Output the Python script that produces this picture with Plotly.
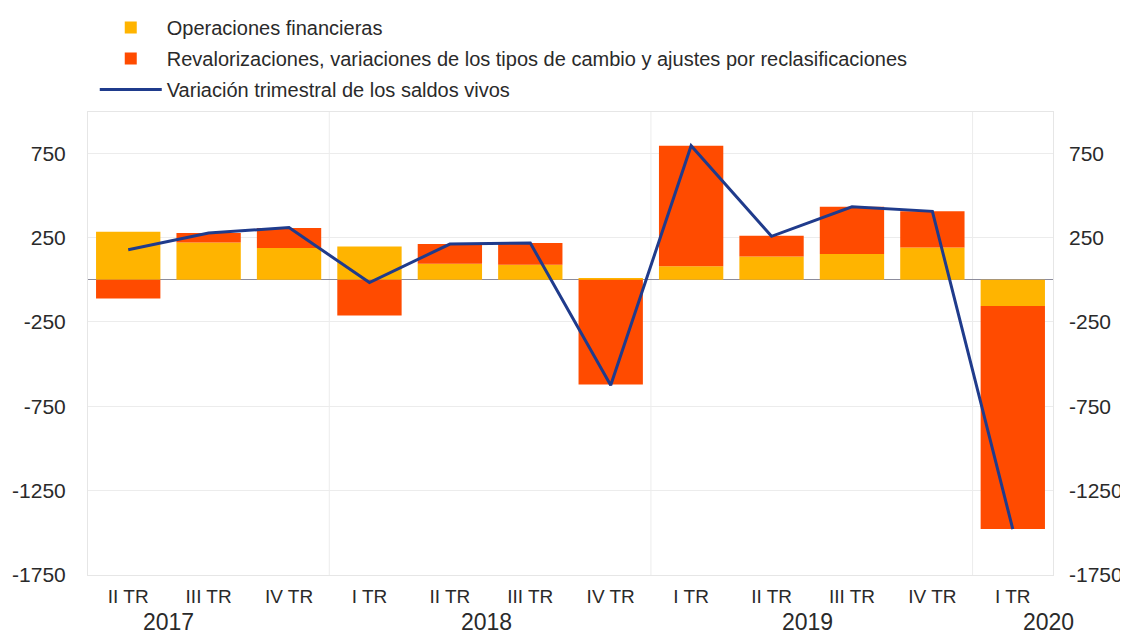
import plotly.graph_objects as go

quarters = ["II TR", "III TR", "IV TR", "I TR", "II TR", "III TR", "IV TR",
            "I TR", "II TR", "III TR", "IV TR", "I TR"]
years = ["2017", "2018", "2019", "2020"]
year_pos = [0.5, 4.45, 8.45, 11.45]

operaciones = [285, 222, 189, 198, 95, 89, 5, 80, 139, 153, 192, -155]
revalorizaciones = [-110, 56, 118, -212, 117, 129, -620, 715, 123, 280, 214, -1323]
variacion = [178, 278, 310, -16, 212, 218, -625, 795, 258, 433, 406, -1478]

y_ticks = [-1750, -1250, -750, -250, 250, 750]
y_ticktext = ["-1750", "-1250", "-750", "-250", "250", "750"]

x = list(range(len(quarters)))

FONT = "Liberation Sans, Arial, sans-serif"
C_YEL = "#FFB400"
C_ORA = "#FF4B00"
C_BLU = "#1F3B8C"
TXT = "#2a2a2a"

fig = go.Figure()
fig.add_trace(go.Bar(x=x, y=operaciones, name="Operaciones financieras",
                     marker=dict(color=C_YEL, line=dict(width=0)), width=0.8,
                     legendgroup="a"))
fig.add_trace(go.Bar(x=x, y=revalorizaciones,
                     name="Revalorizaciones, variaciones de los tipos de cambio y ajustes por reclasificaciones",
                     marker=dict(color=C_ORA, line=dict(width=0)), width=0.8,
                     legendgroup="b"))
fig.add_trace(go.Scatter(x=x, y=variacion, name="Variación trimestral de los saldos vivos",
                         mode="lines", line=dict(color=C_BLU, width=3),
                         legendgroup="c"))
# invisible trace for right axis
fig.add_trace(go.Scatter(x=x, y=variacion, yaxis="y2", mode="lines",
                         line=dict(width=0, color="rgba(0,0,0,0)"),
                         showlegend=False, hoverinfo="skip"))

yr = [-1750, 995]

for xv in [2.5, 6.5, 10.5]:
    fig.add_shape(type="line", xref="x", yref="paper", x0=xv, x1=xv, y0=0, y1=1,
                  line=dict(color="#ececec", width=1), layer="below")

for yv, yl in zip(year_pos, years):
    fig.add_annotation(x=yv, y=-0.1015, xref="x", yref="paper", text=yl,
                       showarrow=False, yanchor="middle",
                       font=dict(family=FONT, size=23, color=TXT))

fig.update_layout(
    width=1120, height=626,
    barmode="relative",
    bargap=0.2,
    plot_bgcolor="white", paper_bgcolor="white",
    margin=dict(l=80, r=75, t=104, b=59, autoexpand=False),
    font=dict(family=FONT, color=TXT),
    legend=dict(x=0.007, y=1.0, xref="paper", yref="container",
                xanchor="left", yanchor="top",
                traceorder="grouped", tracegroupgap=2, itemwidth=62,
                font=dict(family=FONT, size=20, color=TXT),
                bgcolor="rgba(0,0,0,0)"),
    xaxis=dict(tickmode="array", tickvals=x, ticktext=quarters,
               range=[-0.5, 11.5], showgrid=False, zeroline=False,
               showline=True, linecolor="#e6e6e6", mirror=True,
               ticks="", automargin=False, ticklabelstandoff=4,
               tickfont=dict(family=FONT, size=19, color=TXT)),
    yaxis=dict(range=yr, tickmode="array", tickvals=y_ticks, ticktext=y_ticktext,
               showgrid=True, gridcolor="#ececec",
               zeroline=True, zerolinecolor="#8c8c9c", zerolinewidth=1,
               showline=True, linecolor="#e6e6e6", mirror=True,
               ticks="", ticklabelstandoff=17, automargin=False,
               tickfont=dict(family=FONT, size=21, color=TXT)),
    yaxis2=dict(range=yr, tickmode="array", tickvals=y_ticks, ticktext=y_ticktext,
                overlaying="y", side="right",
                showgrid=False, zeroline=False, showline=False, ticks="",
                ticklabelstandoff=15, automargin=False,
                tickfont=dict(family=FONT, size=21, color=TXT)),
)

fig.write_html("out.html")
